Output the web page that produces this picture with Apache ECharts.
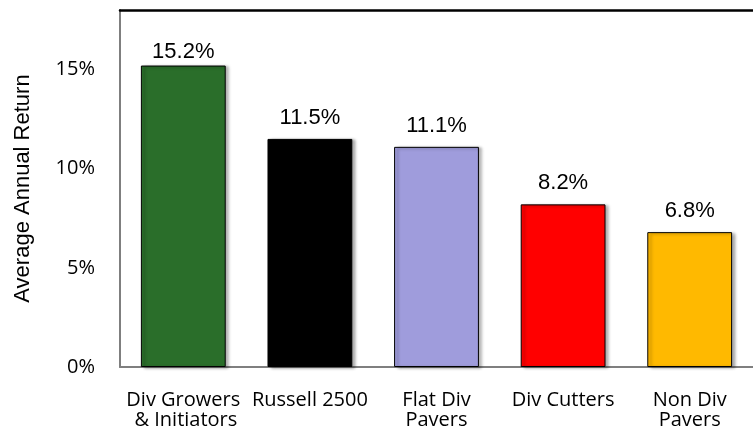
<!DOCTYPE html>
<html>
<head>
<meta charset="utf-8">
<script src="https://cdn.jsdelivr.net/npm/echarts@6/dist/echarts.min.js"></script>
<style>
html,body{margin:0;padding:0;background:#fff;}
#chart{width:753px;height:435px;}
</style>
</head>
<body>
<div id="chart"></div>
<script>
var categories = ['Div Growers\n & Initiators', 'Russell 2500', 'Flat Div\nPavers', 'Div Cutters', 'Non Div\nPavers'];
var values = [15.2, 11.5, 11.1, 8.2, 6.8];
var barColors = ['#2a6e2a', '#000000', '#9f9cdc', '#ff0000', '#ffb900'];
var yTicks = [0, 5, 10, 15];

var chart = echarts.init(document.getElementById('chart'), null, {renderer: 'canvas'});
var option = {
  animation: false,
  backgroundColor: '#ffffff',
  grid: {left: 120, right: -4, top: 10, bottom: 68, containLabel: false},
  xAxis: [{
    type: 'category',
    data: categories,
    position: 'bottom',
    axisLine: {show: true, lineStyle: {color: '#7f7f7f', width: 2}},
    axisTick: {show: false},
    axisLabel: {
      interval: 0,
      margin: 23,
      fontFamily: 'Open Sans',
      fontSize: 20,
      lineHeight: 20,
      color: '#000'
    }
  }, {
    type: 'category',
    data: categories,
    position: 'top',
    axisLine: {show: true, lineStyle: {color: '#000', width: 2.5}},
    axisTick: {show: false},
    axisLabel: {show: false}
  }],
  yAxis: {
    type: 'value',
    min: 0,
    max: 18,
    interval: 5,
    name: 'Average Annual Return',
    nameLocation: 'middle',
    nameGap: 86,
    nameTextStyle: {fontFamily: 'Arial, Liberation Sans', fontSize: 22, color: '#000'},
    axisLine: {show: true, lineStyle: {color: '#7f7f7f', width: 2}},
    axisTick: {show: false},
    splitLine: {show: false},
    axisLabel: {
      showMaxLabel: false,
      margin: 25,
      fontFamily: 'Open Sans',
      fontSize: 20,
      color: '#000',
      formatter: function (v) { return yTicks.indexOf(v) >= 0 ? v + '%' : ''; }
    }
  },
  series: [{
    type: 'bar',
    xAxisIndex: 0,
    barWidth: '67%',
    data: values.map(function (v, i) {
      return {
        value: v,
        label: {distance: i === 0 ? 3 : 10},
        itemStyle: {
          color: barColors[i],
          borderColor: '#000',
          borderWidth: 1,
          shadowColor: 'rgba(0,0,0,0.35)',
          shadowBlur: 3,
          shadowOffsetX: 3,
          shadowOffsetY: 1
        }
      };
    }),
    label: {
      show: true,
      position: 'top',
      distance: 10,
      fontFamily: 'Arial, Liberation Sans',
      fontSize: 22,
      color: '#000',
      formatter: function (p) { return p.value.toFixed(1) + '%'; }
    }
  }]
};
chart.setOption(option);
</script>
</body>
</html>
